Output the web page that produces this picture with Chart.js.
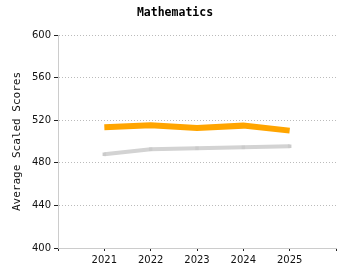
<!DOCTYPE html>
<html>
<head>
<meta charset="utf-8">
<script src="https://cdn.jsdelivr.net/npm/chart.js@4"></script>
<style>
html,body{margin:0;padding:0;background:#fff;}
#wrap{width:350px;height:280px;}
</style>
</head>
<body>
<div id="wrap"><canvas id="c" width="350" height="280"></canvas></div>
<script>
const categories = ["", "2021", "2022", "2023", "2024", "2025", ""];
const seriesOrange = [null, 513.4, 515.3, 512.7, 514.9, 510.2, null];
const seriesGray = [null, 488.0, 492.7, 493.6, 494.5, 495.5, null];
const yTicks = [400, 440, 480, 520, 560, 600];
const titleText = "Mathematics";
const yTitle = "Average Scaled Scores";

const FONT = "'DejaVu Sans', Verdana, sans-serif";
const MONO = "'DejaVu Sans Mono', 'Liberation Mono', monospace";

const centeredTitle = {
  id: 'centeredTitle',
  afterDraw(chart) {
    const ctx = chart.ctx;
    ctx.save();
    ctx.font = "bold 11.5px " + MONO;
    ctx.fillStyle = '#000';
    ctx.textAlign = 'center';
    ctx.textBaseline = 'middle';
    ctx.fillText(titleText, chart.width / 2, 13);
    ctx.restore();
  }
};

new Chart(document.getElementById('c'), {
  type: 'line',
  data: {
    labels: categories,
    datasets: [
      {
        label: 'Gray',
        data: seriesGray,
        borderColor: '#d3d3d3',
        backgroundColor: '#cbcbcb',
        borderWidth: 4,
        pointStyle: 'rect',
        pointRadius: 2.5,
        pointBorderWidth: 0,
        tension: 0,
        order: 2
      },
      {
        label: 'Orange',
        data: seriesOrange,
        borderColor: '#ffa500',
        backgroundColor: '#ffa500',
        borderWidth: 6,
        pointRadius: 0,
        tension: 0,
        order: 1
      }
    ]
  },
  plugins: [centeredTitle],
  options: {
    responsive: false,
    animation: false,
    layout: { padding: { top: 35, right: 14, left: 0, bottom: 11 } },
    plugins: {
      legend: { display: false },
      tooltip: { enabled: false },
      title: { display: false }
    },
    scales: {
      x: {
        offset: false,
        border: { color: '#cccccc', width: 1 },
        grid: { drawOnChartArea: false, drawTicks: true, tickLength: 3, tickColor: '#222', tickWidth: 1 },
        ticks: { color: '#111', font: { family: FONT, size: 10 }, padding: 3, maxRotation: 0, autoSkip: false }
      },
      y: {
        min: 400,
        max: 600,
        afterBuildTicks: (axis) => { axis.ticks = yTicks.map(v => ({ value: v })); },
        afterFit: (s) => { s.width = 58; },
        border: { color: '#cccccc', width: 1, dash: [1, 2] },
        grid: {
          color: (ctx) => ctx.tick && ctx.tick.value === 400 ? 'rgba(0,0,0,0)' : '#bbbbbb',
          lineWidth: 1,
          drawTicks: true,
          tickLength: 4,
          tickColor: '#222',
          tickBorderDash: [],
          tickWidth: 1
        },
        ticks: { color: '#111', font: { family: FONT, size: 10 }, padding: 3 },
        title: {
          display: true,
          text: yTitle,
          color: '#111',
          font: { family: MONO, size: 11 },
          padding: { top: 11, bottom: 0 }
        }
      }
    }
  }
});
</script>
</body>
</html>
